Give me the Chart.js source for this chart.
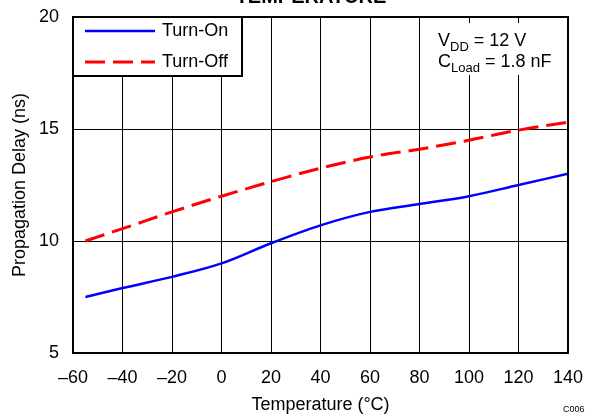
<!DOCTYPE html>
<html>
<head>
<meta charset="utf-8">
<script src="https://cdn.jsdelivr.net/npm/chart.js@4.4.1/dist/chart.umd.min.js"></script>
<style>
    body { margin: 0; background: #fff; }
    canvas { display: block; }
</style>
</head>
<body>
<canvas id="grafico" width="589" height="416"></canvas>
<script>
const temperaturas = [-55, -40, -20, 0, 20, 40, 60, 80, 100, 120, 140];
const turnOn = [7.5, 7.9, 8.4, 9.0, 9.9, 10.7, 11.3, 11.65, 12.0, 12.5, 13.0];
const turnOff = [10.0, 10.55, 11.3, 12.0, 12.65, 13.25, 13.75, 14.1, 14.5, 14.95, 15.3];
const ticksX = [-60, -40, -20, 0, 20, 40, 60, 80, 100, 120, 140];
const ticksY = [5, 10, 15, 20];

const FONTE = '"Liberation Sans", Arial, sans-serif';
Chart.defaults.font.family = FONTE;
Chart.defaults.font.size = 18;
Chart.defaults.color = '#000';

function pontos(valores) {
    return temperaturas.map((t, i) => ({ x: t, y: valores[i] }));
}

// legenda, anotacao, moldura e textos extras
const extras = {
    id: 'extras',
    afterDatasetsDraw(chart) {
        const ctx = chart.ctx;
        const area = chart.chartArea;
        ctx.save();

        // anotacao (fundo branco sem borda)
        ctx.fillStyle = '#fff';
        ctx.fillRect(430, 23, 132, 52);
        ctx.fillStyle = '#000';
        ctx.textBaseline = 'alphabetic';
        escreverSub(ctx, 438, 46, 'V', 'DD', ' = 12 V');
        escreverSub(ctx, 438, 67, 'C', 'Load', ' = 1.8 nF');

        // moldura
        ctx.strokeStyle = '#000';
        ctx.lineWidth = 2;
        ctx.strokeRect(area.left, area.top, area.right - area.left, area.bottom - area.top);

        // legenda
        ctx.fillStyle = '#fff';
        ctx.fillRect(area.left, area.top, 169, 59);
        ctx.strokeRect(area.left, area.top, 169, 59);
        const linhas = [31, 62];
        chart.data.datasets.forEach((ds, i) => {
            ctx.beginPath();
            ctx.strokeStyle = ds.borderColor;
            ctx.lineWidth = ds.borderWidth;
            ctx.setLineDash(ds.borderDash || []);
            ctx.moveTo(85, linhas[i]);
            ctx.lineTo(155, linhas[i]);
            ctx.stroke();
            ctx.setLineDash([]);
            ctx.fillStyle = '#000';
            ctx.font = '18px ' + FONTE;
            ctx.textBaseline = 'middle';
            ctx.textAlign = 'left';
            ctx.fillText(ds.label, 162, linhas[i]);
        });
        ctx.restore();
    },
    afterDraw(chart) {
        const ctx = chart.ctx;
        ctx.save();
        ctx.fillStyle = '#000';
        ctx.font = 'bold 20px ' + FONTE;
        ctx.textAlign = 'center';
        ctx.textBaseline = 'alphabetic';
        ctx.fillText('TEMPERATURE', 311, 3);
        ctx.font = '9px ' + FONTE;
        ctx.textAlign = 'left';
        ctx.textBaseline = 'middle';
        ctx.fillText('C006', 563, 410);
        ctx.restore();
    }
};

function escreverSub(ctx, x, y, base, sub, resto) {
    ctx.font = '18px ' + FONTE;
    ctx.fillText(base, x, y);
    x += ctx.measureText(base).width;
    ctx.font = '13px ' + FONTE;
    ctx.fillText(sub, x, y + 5);
    x += ctx.measureText(sub).width;
    ctx.font = '18px ' + FONTE;
    ctx.fillText(resto, x, y);
}

new Chart(document.getElementById('grafico'), {
    type: 'line',
    data: {
        datasets: [{
            label: 'Turn-On',
            data: pontos(turnOn),
            borderColor: '#0000ff',
            borderWidth: 2.5,
            pointRadius: 0,
            fill: false,
            cubicInterpolationMode: 'monotone'
        }, {
            label: 'Turn-Off',
            data: pontos(turnOff),
            borderColor: '#ff0000',
            borderWidth: 3,
            borderDash: [20, 8],
            pointRadius: 0,
            fill: false,
            cubicInterpolationMode: 'monotone'
        }]
    },
    options: {
        responsive: false,
        animation: false,
        layout: {
            padding: { top: 17, right: 21, left: 0, bottom: 0 }
        },
        scales: {
            x: {
                type: 'linear',
                min: -60,
                max: 140,
                afterBuildTicks: (scale) => { scale.ticks = ticksX.map(v => ({ value: v })); },
                afterFit: (scale) => {
                    scale.height = 63;
                    scale.paddingLeft = 0;
                    scale.paddingRight = 0;
                },
                ticks: {
                    padding: 14,
                    maxRotation: 0,
                    callback: (value) => String(value).replace('-', '\u2013')
                },
                grid: { color: '#000', lineWidth: 1, drawTicks: false },
                border: { display: false },
                title: {
                    display: true,
                    text: 'Temperature (°C)',
                    padding: { top: 0, bottom: 0 }
                }
            },
            y: {
                min: 5,
                max: 20,
                afterBuildTicks: (scale) => { scale.ticks = ticksY.map(v => ({ value: v })); },
                afterFit: (scale) => {
                    scale.width = 73;
                    scale.paddingTop = 0;
                    scale.paddingBottom = 0;
                },
                ticks: { padding: 14 },
                grid: { color: '#000', lineWidth: 1, drawTicks: false },
                border: { display: false },
                title: {
                    display: true,
                    text: 'Propagation Delay (ns)',
                    padding: { top: 9, bottom: 0 }
                }
            }
        },
        plugins: {
            legend: { display: false },
            tooltip: { enabled: false }
        }
    },
    plugins: [extras]
});
</script>
</body>
</html>
